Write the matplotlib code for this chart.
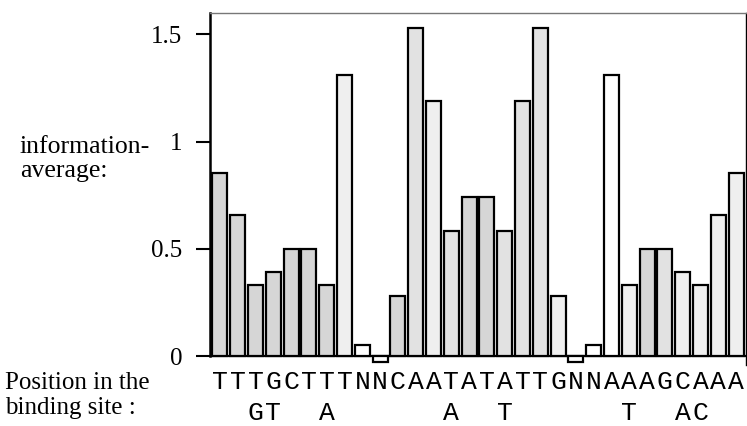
import matplotlib
matplotlib.use('Agg')
import matplotlib.pyplot as plt

# information per position of the binding site (palindromic)
seq_top = list("TTTGCTTTNNCAATATATTGNNAAAGCAAA")
seq_alt = ["", "", "G", "T", "", "", "A", "", "", "", "", "", "", "A", "",
           "", "T", "", "", "", "", "", "", "T", "", "", "A", "C", "", ""]
info_avg = [0.855, 0.66, 0.33, 0.39, 0.5, 0.5, 0.33, 1.31, 0.05, -0.03,
            0.28, 1.53, 1.19, 0.585, 0.74, 0.74, 0.585, 1.19, 1.53, 0.28,
            -0.03, 0.05, 1.31, 0.33, 0.5, 0.5, 0.39, 0.33, 0.66, 0.855]
y_ticks = [0, 0.5, 1, 1.5]
y_tick_labels = ["0", "0.5", "1", "1.5"]

# stipple density of the scanned bars, approximated by grey shades
shade = {'d': '#d6d6d6', 'm': '#e2e2e2', 'l': '#efefef', 'w': '#ffffff'}
bar_shades = "dddddddlwwdmlmddmmmlwwwldmllll"

W, H = 747, 426
fig = plt.figure(figsize=(W / 100, H / 100), dpi=100)
ax_top, ax_bot, ax_left, ax_right = 13, 364.6, 210, 746
ax = fig.add_axes([ax_left / W, 1 - ax_bot / H,
                   (ax_right - ax_left) / W, (ax_bot - ax_top) / H])

x = list(range(len(info_avg)))
ax.bar(x, info_avg, width=0.84, color=[shade[c] for c in bar_shades],
       edgecolor='black', linewidth=1.6, zorder=3)
ax.axhline(0, color='black', linewidth=1.6, zorder=2)

ax.set_xlim(-0.56, len(info_avg) - 0.44)
ax.set_ylim(-0.04, 1.6)

ax.spines['bottom'].set_visible(False)
ax.spines['left'].set_bounds(0, 1.6)
ax.spines['left'].set_linewidth(1.8)
ax.spines['top'].set_linewidth(1.0)
ax.spines['top'].set_color('#777777')
ax.spines['right'].set_linewidth(1.0)

ax.set_yticks(y_ticks)
ax.set_yticklabels(y_tick_labels, fontfamily='Liberation Serif', fontsize=18)
ax.tick_params(axis='y', direction='out', length=10, width=1.5, pad=10)

labels = [t + ("\n" + a if a else "") for t, a in zip(seq_top, seq_alt)]
ax.set_xticks(x)
ax.set_xticklabels(labels, fontfamily='Liberation Mono', fontsize=19,
                   linespacing=1.35, va='top')
ax.tick_params(axis='x', length=0, pad=4)

fig.text(20 / W, 1 - 159 / H, "information-\naverage:", ha='left', va='center',
         fontfamily='Liberation Serif', fontsize=18.5, linespacing=1.1)
fig.text(5 / W, 1 - 372 / H, "Position in the\nbinding site :", ha='left',
         va='top', fontfamily='Liberation Serif', fontsize=18, linespacing=1.2)

fig.savefig('out.png', dpi=100)
